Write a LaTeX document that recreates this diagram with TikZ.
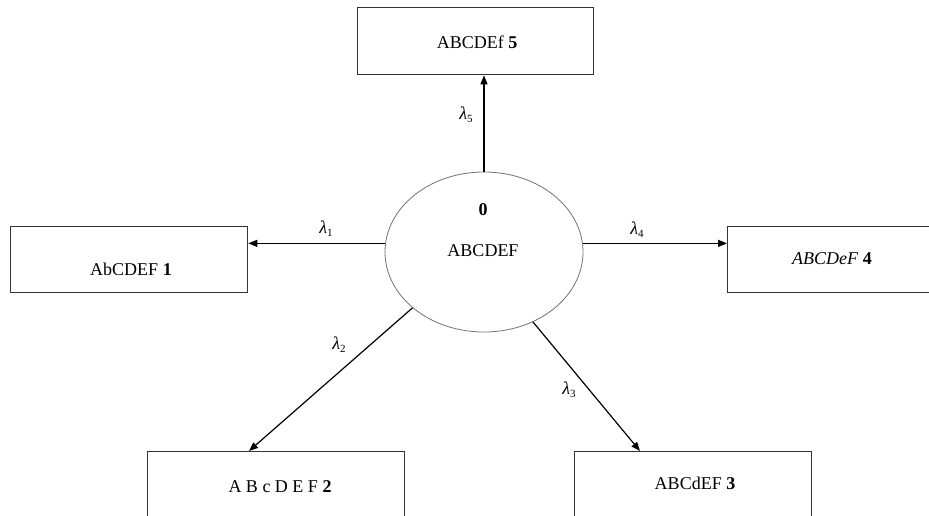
\documentclass[tikz,border=0pt]{standalone}
\usepackage{fontspec}
\setmainfont{Liberation Serif}
\usetikzlibrary{arrows.meta,calc,shapes.geometric}

\tikzset{
  statebox/.style={draw=black!80, line width=1.3pt, rectangle, inner sep=0pt, anchor=north west},
  hub/.style={draw=black!55, line width=0.8pt, ellipse, inner sep=0pt,
              minimum width=198pt, minimum height=160pt},
  boxtext/.style={inner sep=0pt, font=\fontsize{18}{21}\selectfont},
  rate/.style={inner sep=0pt, font=\fontsize{18}{21}\selectfont},
  flow/.style={line width=1.2pt, -{Triangle[length=9pt,width=7pt]}},
}
\newcommand{\lam}[1]{{\itshape λ}\raisebox{-0.35ex}{\fontsize{11}{12}\selectfont #1}}

\begin{document}
\begin{tikzpicture}[x=1pt, y=-1pt]
  \useasboundingbox (0,0) rectangle (929,515);
  \clip (0,0) rectangle (929,515);

  % central state
  \node[hub] (c0) at (484,252) {};
  \node[boxtext] (c0num) at (483,210) {\textbf{0}};
  \node[boxtext] (c0txt) at (483,251) {ABCDEF};

  % surrounding states
  \node[statebox, minimum width=236pt, minimum height=67pt] (b5) at (357,7) {};
  \node[boxtext] (t5) at (477,42) {ABCDEf \textbf{5}};

  \node[statebox, minimum width=237pt, minimum height=66pt] (b1) at (10,226) {};
  \node[boxtext] (t1) at (131,269) {AbCDEF \textbf{1}};

  \node[statebox, minimum width=230pt, minimum height=66pt] (b4) at (727,226) {};
  \node[boxtext] (t4) at (832,259) {\textit{ABCDeF} \textbf{4}};

  \node[statebox, minimum width=257pt, minimum height=100pt] (b2) at (147,451) {};
  \node[boxtext] (t2) at (280,487) {A B c D E F \textbf{2}};

  \node[statebox, minimum width=237pt, minimum height=100pt] (b3) at (574,451) {};
  \node[boxtext] (t3) at (695,483) {ABCdEF \textbf{3}};

  % transitions
  \coordinate (e2) at ($(b2.north west)+(102,0)$);
  \coordinate (e3) at ($(b3.north west)+(66,0)$);
  \draw[flow] (c0.north) -- (c0.north |- b5.south);
  \draw[flow] (c0.175) -- (c0.175 -| b1.east);
  \draw[flow] (c0.5) -- (c0.5 -| b4.west);
  \draw[flow] (c0.218) -- (e2);
  \draw[flow] (c0.305) -- (e3);

  % rate labels
  \node[rate] (l5) at (466,115) {\lam{5}};
  \node[rate] (l1) at (326,229) {\lam{1}};
  \node[rate] (l4) at (637,230) {\lam{4}};
  \node[rate] (l2) at (339,345) {\lam{2}};
  \node[rate] (l3) at (569,390) {\lam{3}};
\end{tikzpicture}
\end{document}
